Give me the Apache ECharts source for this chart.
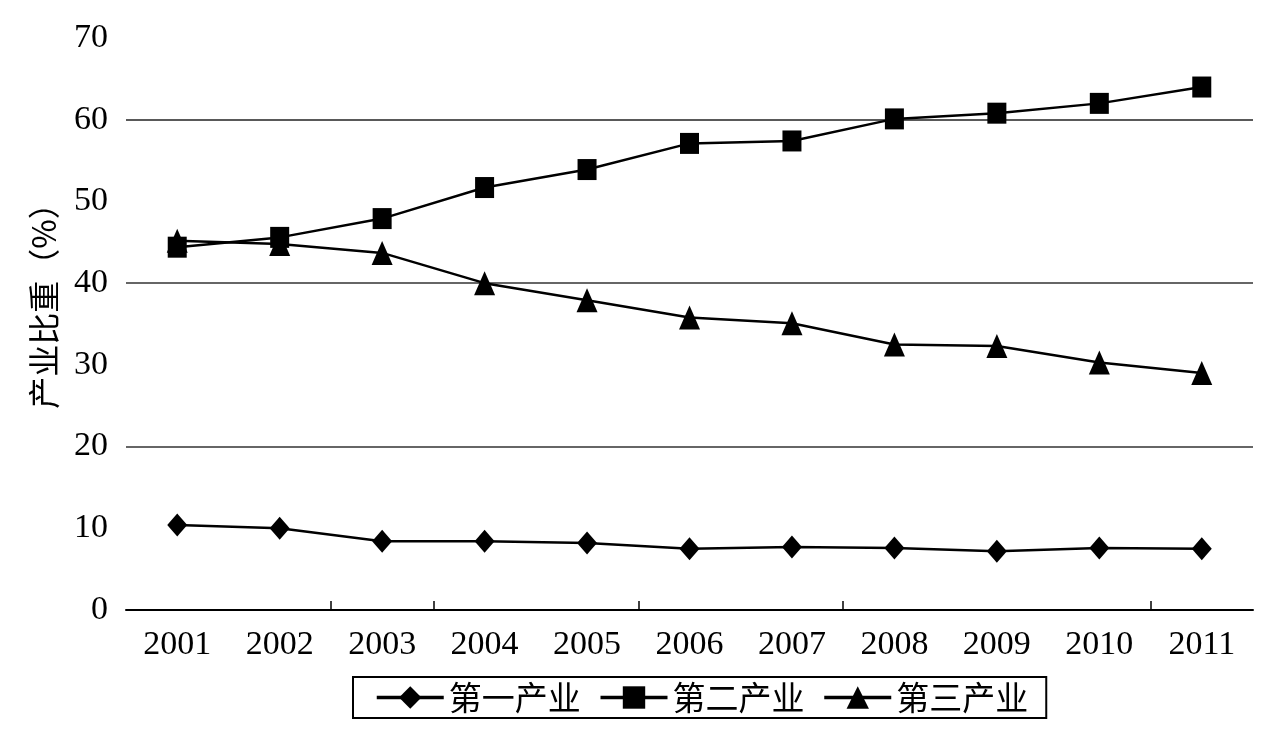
<!DOCTYPE html>
<html>
<head>
<meta charset="utf-8">
<title>产业比重</title>
<script src="https://cdn.jsdelivr.net/npm/echarts@6/dist/echarts.min.js"></script>
<style>
  html, body { margin: 0; padding: 0; background: #fff; }
  #chart { width: 1280px; height: 736px; }
</style>
</head>
<body>
<div id="chart"></div>
<script>
// 年份
var years = ['2001', '2002', '2003', '2004', '2005', '2006', '2007', '2008', '2009', '2010', '2011'];
// 三次产业比重（%），从图上读出的近似值
var primary = [10.4, 10.0, 8.4, 8.4, 8.2, 7.5, 7.7, 7.6, 7.2, 7.6, 7.5];
var secondary = [44.4, 45.6, 47.9, 51.7, 53.9, 57.1, 57.4, 60.1, 60.8, 62.0, 64.0];
var tertiary = [45.2, 44.8, 43.7, 40.0, 37.9, 35.8, 35.1, 32.5, 32.3, 30.3, 29.0];
var seriesNames = ['第一产业', '第二产业', '第三产业'];

var numFont = '"Liberation Serif", "DejaVu Serif", serif';
var cjkFont = '"Noto Sans CJK SC", sans-serif';

var chart = echarts.init(document.getElementById('chart'));

function lineSeries(name, data, symbol, size) {
  return {
    name: name,
    type: 'line',
    data: data,
    symbol: symbol,
    symbolSize: size,
    showAllSymbol: true,
    lineStyle: { color: '#000', width: 2.5 },
    itemStyle: { color: '#000' },
    emphasis: { disabled: true }
  };
}

// 原图只在部分年份之间有刻度（边界 0..11，首尾不画）
var tickColors = ['transparent', 'transparent', '#000', '#000', 'transparent', '#000',
  'transparent', '#000', 'transparent', 'transparent', '#000', 'transparent'];

var option = {
  backgroundColor: '#fff',
  animation: false,
  grid: [
    { left: 126, right: 27, top: 38, bottom: 126 },
    // 刻度用的窄条
    { left: 126, right: 27, top: 601, height: 9 }
  ],
  legend: {
    left: 353,
    top: 677,
    orient: 'horizontal',
    data: seriesNames,
    itemWidth: 67,
    itemHeight: 28,
    itemGap: 18,
    padding: [4, 18, 4, 22],
    borderColor: '#000',
    borderWidth: 2,
    lineStyle: { width: 3.5 },
    textStyle: { fontFamily: cjkFont, fontSize: 33, color: '#000' }
  },
  xAxis: [
    {
      type: 'category',
      data: years,
      boundaryGap: true,
      axisLine: { show: true, lineStyle: { color: '#000', width: 2 } },
      axisTick: { show: false },
      axisLabel: {
        margin: 18,
        fontFamily: numFont,
        fontSize: 34,
        color: '#000'
      },
      splitLine: { show: false }
    },
    {
      type: 'category',
      gridIndex: 1,
      data: years,
      boundaryGap: true,
      axisLine: { show: false },
      axisTick: { show: false },
      axisLabel: { show: false },
      splitLine: {
        show: true,
        lineStyle: { color: tickColors, width: 1.5 }
      }
    }
  ],
  yAxis: [
    {
      type: 'value',
      min: 0,
      max: 70,
      interval: 10,
      name: '产业比重（%）',
      nameLocation: 'middle',
      nameGap: 66,
      nameRotate: 90,
      nameTextStyle: {
        fontFamily: cjkFont,
        fontSize: 32,
        color: '#000',
        padding: [0, 0, 0, 52]
      },
      axisLine: { show: false },
      axisTick: { show: false },
      axisLabel: {
        margin: 18,
        fontFamily: numFont,
        fontSize: 34,
        color: '#000'
      },
      splitLine: {
        show: true,
        lineStyle: {
          // 只在 20、40、60 处画网格线
          color: ['transparent', 'transparent', '#333', 'transparent', '#333', 'transparent', '#222', 'transparent'],
          width: 1.5
        }
      }
    },
    {
      type: 'value',
      gridIndex: 1,
      show: false,
      splitLine: { show: false }
    }
  ],
  series: [
    lineSeries(seriesNames[0], primary, 'diamond', [20, 23]),
    lineSeries(seriesNames[1], secondary, 'rect', [19, 21]),
    lineSeries(seriesNames[2], tertiary, 'triangle', [21, 24])
  ]
};

chart.setOption(option);
</script>
</body>
</html>
